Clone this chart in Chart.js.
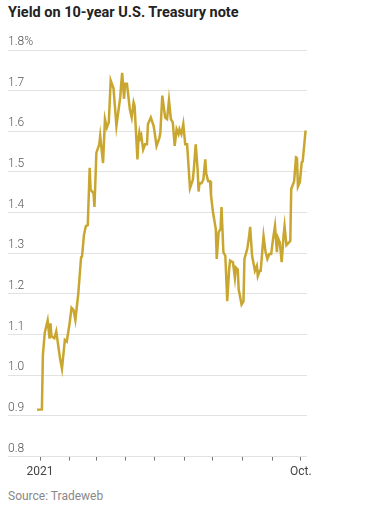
<!DOCTYPE html>
<html lang="en">
<head>
  <meta charset="UTF-8" />
  <title>Yield on 10-year U.S. Treasury note</title>
  <script src="https://cdn.jsdelivr.net/npm/chart.js"></script>
  <style>
    body {
      margin: 0;
      background: #fff;
      width: 373px;
      height: 508px;
      position: relative;
      overflow: hidden;
      font-family: Roboto, 'Noto Sans', sans-serif;
    }
    .title {
      position: absolute;
      left: 8px;
      top: 4px;
      font-size: 14.5px;
      font-weight: 700;
      line-height: 18px;
      color: #222;
      white-space: nowrap;
    }
    .chart-box {
      position: absolute;
      left: 0;
      top: 28px;
      width: 373px;
      height: 455px;
    }
    .source {
      position: absolute;
      left: 8px;
      top: 488px;
      font-size: 12px;
      line-height: 16px;
      color: #888;
    }
  </style>
</head>
<body>
  <div class="title">Yield on 10-year U.S. Treasury note</div>
  <div class="chart-box"><canvas id="yieldChart"></canvas></div>
  <div class="source">Source: Tradeweb</div>

  <script>
    // day of year 2021 (Jan 1 = 0)
    const days = [
      -3, 2, 3, 5, 8, 10, 11, 12, 15, 17, 21, 23, 26, 28, 31, 33, 35, 37, 40, 43,
      44, 46, 48, 50, 52, 53, 56, 57, 59, 62, 63, 66, 68, 70, 72, 74, 77, 80, 84, 85,
      86, 88, 89, 91, 94, 96, 98, 99, 102, 103, 104, 105, 106, 108, 110, 112, 113, 116, 119, 120,
      122, 125, 126, 128, 131, 133, 135, 137, 139, 141, 143, 145, 146, 148, 150, 152, 154, 157, 160, 161,
      163, 165, 166, 167, 169, 171, 173, 174, 176, 178, 179, 181, 184, 185, 187, 189, 190, 192, 194, 196,
      198, 199, 202, 204, 205, 207, 208, 211, 213, 214, 217, 219, 220, 222, 225, 227, 228, 230, 231, 234,
      236, 238, 240, 242, 244, 246, 248, 249, 251, 253, 255, 256, 258, 262, 263, 266, 268, 269, 270, 272,
      274, 275, 278
    ];
    const yields = [
      0.915, 0.916, 1.05, 1.105, 1.135, 1.09, 1.128, 1.096, 1.091, 1.108, 1.041, 1.016, 1.087, 1.083, 1.128, 1.166, 1.161, 1.136, 1.199, 1.29,
      1.292, 1.345, 1.367, 1.369, 1.51, 1.456, 1.448, 1.414, 1.547, 1.568, 1.589, 1.522, 1.63, 1.609, 1.622, 1.725, 1.705, 1.613, 1.684, 1.717,
      1.744, 1.68, 1.717, 1.717, 1.655, 1.634, 1.671, 1.663, 1.531, 1.58, 1.597, 1.584, 1.59, 1.555, 1.568, 1.568, 1.618, 1.634, 1.613, 1.597,
      1.564, 1.584, 1.597, 1.688, 1.634, 1.63, 1.676, 1.63, 1.622, 1.564, 1.605, 1.593, 1.605, 1.593, 1.618, 1.568, 1.568, 1.46, 1.481, 1.506,
      1.568, 1.506, 1.452, 1.472, 1.472, 1.481, 1.531, 1.497, 1.477, 1.477, 1.443, 1.402, 1.36, 1.286, 1.352, 1.36, 1.414, 1.302, 1.294, 1.182,
      1.261, 1.282, 1.278, 1.24, 1.265, 1.26, 1.211, 1.174, 1.182, 1.286, 1.311, 1.344, 1.365, 1.294, 1.257, 1.269, 1.244, 1.257, 1.257, 1.342,
      1.305, 1.286, 1.298, 1.298, 1.336, 1.367, 1.303, 1.338, 1.327, 1.278, 1.344, 1.367, 1.32, 1.33, 1.458, 1.477, 1.536, 1.535, 1.464, 1.475,
      1.524, 1.526, 1.602
    ];

    // month starts for the tick marks (Jan 1 ... Oct 1)
    const monthStarts = [0, 31, 59, 90, 120, 151, 181, 212, 243, 273];
    const monthLabels = ['2021', '', '', '', '', '', '', '', '', 'Oct.'];
    const yTicks = [0.8, 0.9, 1.0, 1.1, 1.2, 1.3, 1.4, 1.5, 1.6, 1.7, 1.8];

    const points = days.map((d, i) => ({ x: d, y: yields[i] }));

    new Chart(document.getElementById('yieldChart'), {
      type: 'line',
      data: {
        datasets: [{
          data: points,
          borderColor: '#c9a630',
          borderWidth: 2.5,
          pointRadius: 0,
          tension: 0,
          fill: false
        }]
      },
      options: {
        responsive: true,
        maintainAspectRatio: false,
        animation: false,
        layout: { padding: { left: 8, right: 66, top: 22, bottom: 0 } },
        plugins: { legend: { display: false }, tooltip: { enabled: false } },
        scales: {
          x: {
            type: 'linear',
            min: -33.5,
            max: 279.5,
            afterBuildTicks: axis => { axis.ticks = monthStarts.map(v => ({ value: v })); },
            ticks: {
              autoSkip: false,
              maxRotation: 0,
              padding: 4,
              color: '#444',
              font: { family: 'Roboto', size: 12 },
              callback: v => monthLabels[monthStarts.indexOf(v)] || ''
            },
            grid: { drawOnChartArea: false, drawTicks: true, tickLength: 4, color: '#777' },
            border: { display: false }
          },
          y: {
            min: 0.8,
            max: 1.8,
            afterBuildTicks: axis => { axis.ticks = yTicks.map(v => ({ value: v })); },
            ticks: {
              mirror: true,
              padding: 0,
              labelOffset: -8,
              color: '#555',
              font: { family: 'Roboto', size: 12, weight: '300' },
              callback: v => Math.abs(v - 1.8) < 1e-6 ? '1.8%' : v.toFixed(1)
            },
            grid: { color: '#e2e2e2', drawTicks: false },
            border: { display: false }
          }
        }
      }
    });
  </script>
</body>
</html>
